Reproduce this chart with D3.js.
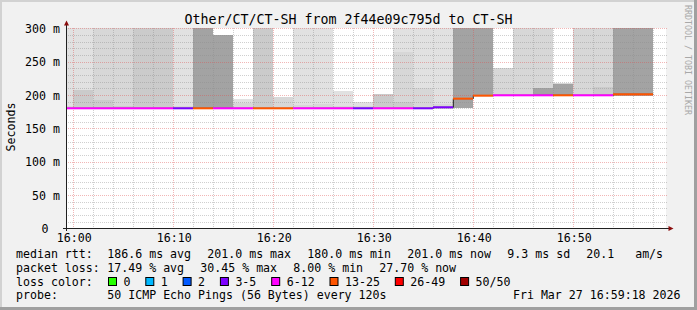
<!DOCTYPE html>
<html>
<head>
<meta charset="utf-8">
<script src="https://cdn.jsdelivr.net/npm/d3@7"></script>
<style>
  body { margin: 0; background: #f1f1f1; }
  svg { display: block; }
  text { font-family: "DejaVu Sans Mono", monospace; fill: #000; white-space: pre; }
</style>
</head>
<body>
<script>
var WIDTH = 697,
    HEIGHT = 310;

// 2 minute steps, start time of each step
var times = ["15:58", "16:00", "16:02", "16:04", "16:06", "16:08", "16:10", "16:12",
             "16:14", "16:16", "16:18", "16:20", "16:22", "16:24", "16:26", "16:28",
             "16:30", "16:32", "16:34", "16:36", "16:38", "16:40", "16:42", "16:44",
             "16:46", "16:48", "16:50", "16:52", "16:54", "16:56"];

// median rtt (ms)
var medianMs = [180, 180, 180, 180, 180, 180, 180, 180, 180, 180,
                180, 180, 180, 180, 180, 180, 180, 180, 180, 181.5,
                194.5, 199, 199.5, 199.5, 199.5, 199.5, 199.5, 199.5, 201, 201];

// packet loss (%)
var lossPct = [18, 16, 18, 20, 16, 14, 8, 30.45, 20, 18,
               28, 27, 22, 16, 18, 8, 20, 14, 8, 10,
               29, 27, 22, 20, 18, 28, 20, 22, 28, 27.7];

// smoke: lowest ping and the upper edge of each ping band (ms, null = none)
var smokeLow   = [179, 179, 179, 179, 179, 179, 179, 179, 179, 179,
                  179, 179, 179, 179, 179, 179, 179, 179, 179, 179,
                  180, 198, 198, 198, 198, 198, 198, 198, 198, 198];
var smokeOuter = [340, 340, 340, 340, 340, 340, 340, 340, 290, 194,
                  340, 196.5, 340, 340, 206, 189, 202, 340, 340, 340,
                  340, 340, 240, 340, 340, 218, 340, 340, 340, 340];
var smokeMid   = [184, null, 340, 340, 340, 340, 184, 340, 290, 188,
                  340, 196.5, 185, 186, 184, 184, 202, 265, 210, 186,
                  340, 340, 240, 340, 340, 218, 340, 340, 340, 340];
var smokeInner = [null, 208, 192, 184, 340, 340, null, 340, 290, null,
                  340, null, null, null, null, null, 202, 189, null, null,
                  340, 340, null, null, null, null, null, 212, 340, 340];
var smokeCore  = [null, null, null, null, null, null, null, 340, 290, null,
                  null, null, null, null, null, null, null, null, null, null,
                  340, 340, null, null, 211, 216, null, null, 340, 340];

var bandColors = ["#e1e1e1", "#d7d7d7", "#cbcbcb", "#a3a3a3"];

var lossLabels = ["0", "1", "2", "3-5", "6-12", "13-25", "26-49", "50/50"],
    lossColors = ["#26ff00", "#00b8ff", "#0059ff", "#7e00ff", "#ff00ff", "#ff5500", "#ff0000", "#a10000"],
    lossBreaks = [1, 2, 3, 6, 13, 26, 50];

var rttStats = [186.6, 201.0, 180.0, 201.0],
    lossStats = [17.49, 30.45, 8.00, 27.70],
    statNames = ["avg", "max", "min", "now"],
    rttSd = 9.3,
    rttAmS = 20.1;

var yTicks = [0, 50, 100, 150, 200, 250, 300];

var parse = d3.timeParse("%Y-%m-%d %H:%M"),
    t0 = new Date(2026, 2, 27, 15, 59, 18),
    t1 = new Date(2026, 2, 27, 16, 59, 18);

var data = times.map(function(t, i) {
  var start = parse("2026-03-27 " + t);
  return {
    start: start < t0 ? t0 : start,
    end: d3.timeMinute.offset(start, 2),
    median: medianMs[i],
    loss: lossPct[i],
    low: smokeLow[i],
    bands: [smokeOuter[i], smokeMid[i], smokeInner[i], smokeCore[i]]
  };
});

var x = d3.scaleTime().domain([t0, t1]).range([66.3, 666.3]),
    y = d3.scaleLinear().domain([0, 300]).range([228.3, 28.3]),
    lossColor = d3.scaleThreshold().domain(lossBreaks).range(lossColors);

var px = function(v) { return Math.round(x(v)); },
    py = function(v) { return Math.round(y(v)); };

var svg = d3.select("body").append("svg")
      .attr("width", WIDTH)
      .attr("height", HEIGHT);

// frame
svg.append("rect").attr("width", WIDTH).attr("height", HEIGHT).attr("fill", "#f1f1f1");
svg.append("path").attr("d", "M0,0H697V2H2V310H0Z").attr("fill", "#d2d2d2");
svg.append("path").attr("d", "M697,0V310H0V307H694V0Z").attr("fill", "#a0a0a0");

// canvas
svg.append("rect")
  .attr("x", 66).attr("y", 28)
  .attr("width", 600).attr("height", 200)
  .attr("fill", "#fff");

svg.append("clipPath").attr("id", "plot")
  .append("rect").attr("x", 66).attr("y", 28).attr("width", 600).attr("height", 200);

// smoke
var smoke = svg.append("g").attr("clip-path", "url(#plot)").attr("shape-rendering", "crispEdges");

bandColors.forEach(function(color, b) {
  smoke.selectAll(".band" + b)
    .data(data.filter(function(d) { return d.bands[b] != null; }))
    .enter().append("rect")
    .attr("class", "band" + b)
    .attr("x", function(d) { return px(d.start); })
    .attr("width", function(d) { return px(d.end) - px(d.start); })
    .attr("y", function(d) { return py(Math.min(d.bands[b], 310)); })
    .attr("height", function(d) { return py(d.low) - py(Math.min(d.bands[b], 310)); })
    .attr("fill", color);
});

// grid
var grid = svg.append("g").attr("fill", "none").attr("stroke-dasharray", "1,1");
var minorCol = "rgba(140,140,140,0.42)",
    majorCol = "rgba(222,80,80,0.42)";

grid.selectAll(".hminor")
  .data(y.ticks(30).filter(function(v) { return v % 50; }))
  .enter().append("line")
  .attr("x1", 66).attr("x2", 667)
  .attr("y1", function(v) { return py(v) + 0.5; })
  .attr("y2", function(v) { return py(v) + 0.5; })
  .attr("stroke", minorCol);

grid.selectAll(".vminor")
  .data(x.ticks(d3.timeMinute.every(2)).filter(function(t) { return t.getMinutes() % 10; }))
  .enter().append("line")
  .attr("x1", function(t) { return px(t) + 0.5; })
  .attr("x2", function(t) { return px(t) + 0.5; })
  .attr("y1", 28).attr("y2", 228)
  .attr("stroke", minorCol);

grid.selectAll(".hmajor")
  .data(yTicks.slice(1))
  .enter().append("line")
  .attr("x1", 66).attr("x2", 667)
  .attr("y1", function(v) { return py(v) + 0.5; })
  .attr("y2", function(v) { return py(v) + 0.5; })
  .attr("stroke", majorCol);

grid.selectAll(".vmajor")
  .data(x.ticks(d3.timeMinute.every(10)))
  .enter().append("line")
  .attr("x1", function(t) { return px(t) + 0.5; })
  .attr("x2", function(t) { return px(t) + 0.5; })
  .attr("y1", 28).attr("y2", 228)
  .attr("stroke", majorCol);

// median: dark step line under the loss coloured segments
var stepPts = data.map(function(d) { return [x(d.start), y(d.median)]; });
stepPts.push([x(data[data.length - 1].end), y(data[data.length - 1].median)]);

svg.append("path")
  .attr("d", d3.line().curve(d3.curveStepAfter)(stepPts))
  .attr("fill", "none")
  .attr("stroke", "#202020")
  .attr("stroke-width", 1);

svg.selectAll(".med")
  .data(data)
  .enter().append("line")
  .attr("class", "med")
  .attr("x1", function(d) { return px(d.start); })
  .attr("x2", function(d) { return px(d.end); })
  .attr("y1", function(d) { return y(d.median); })
  .attr("y2", function(d) { return y(d.median); })
  .attr("stroke", function(d) { return lossColor(Math.round(d.loss / 2)); })
  .attr("stroke-width", 2);

// axes
svg.append("line").attr("x1", 63).attr("x2", 669).attr("y1", 228.5).attr("y2", 228.5)
  .attr("stroke", "#202020");
svg.append("line").attr("x1", 66.5).attr("x2", 66.5).attr("y1", 231).attr("y2", 24)
  .attr("stroke", "#202020");
svg.append("path").attr("d", "M64,25.5L66.5,20.5L69,25.5Z").attr("fill", "#8b0d0d");
svg.append("path").attr("d", "M668.5,226L673.5,228.5L668.5,231Z").attr("fill", "#8b0d0d");

var xAxis = svg.append("g")
  .attr("transform", "translate(0,242)")
  .call(d3.axisBottom(x).ticks(d3.timeMinute.every(10)).tickFormat(d3.timeFormat("%H:%M")).tickSize(0));
xAxis.select(".domain").remove();
xAxis.selectAll("text").attr("y", 0).attr("dy", null).attr("dx", "0.5")
  .style("font-family", "DejaVu Sans Mono").style("font-size", "11.6px").attr("fill", "#000");

var yAxis = svg.append("g")
  .attr("transform", "translate(60,0)")
  .call(d3.axisLeft(y).tickValues(yTicks).tickSize(0)
    .tickFormat(function(v) { return v ? v + " m" : "0"; }));
yAxis.select(".domain").remove();
yAxis.selectAll("text").attr("x", function(v) { return v ? 0 : -11.5; }).attr("dy", "4.2")
  .style("font-family", "DejaVu Sans Mono").style("font-size", "11.6px").attr("fill", "#000");

// titles
svg.append("text")
  .attr("x", 348.5).attr("y", 23.5)
  .attr("text-anchor", "middle")
  .style("font-size", "13.3px")
  .text("Other/CT/CT-SH from 2f44e09c795d to CT-SH");

svg.append("text")
  .attr("transform", "translate(15,127) rotate(-90)")
  .attr("text-anchor", "middle")
  .style("font-size", "11.6px")
  .text("Seconds");

svg.append("text")
  .attr("transform", "translate(685,5) rotate(90)")
  .style("font-size", "8.3px")
  .style("fill", "#a8a8a8")
  .text("RRDTOOL / TOBI OETIKER");

// legend
var CH = 7.0, LX = 107.3;
var legend = svg.append("g").style("font-size", "11.6px");

function row(label, items, yb) {
  legend.append("text").attr("x", 16).attr("y", yb).text(label);
  var xx = LX;
  items.forEach(function(s) {
    legend.append("text").attr("x", xx).attr("y", yb).text(s);
    xx += s.length * CH + 16;
  });
}

var f1 = d3.format(".1f"), f2 = d3.format(".2f");
row("median rtt:", rttStats.map(function(v, i) { return f1(v) + " ms " + statNames[i]; })
  .concat([f1(rttSd) + " ms sd", f1(rttAmS) + "   am/s"]), 258);
row("packet loss:", lossStats.map(function(v, i) { return f2(v) + " % " + statNames[i]; }), 272);

legend.append("text").attr("x", 16).attr("y", 285.5).text("loss color:");
var lx = 108.5;
lossLabels.forEach(function(l, i) {
  legend.append("rect")
    .attr("x", lx).attr("y", 277.5).attr("width", 8).attr("height", 8)
    .attr("fill", lossColors[i]).attr("stroke", "#000");
  legend.append("text").attr("x", lx + 15).attr("y", 285.5).text(l);
  lx += 15 + l.length * CH + 15.3;
});

legend.append("text").attr("x", 16).attr("y", 299).text("probe:");
legend.append("text").attr("x", LX).attr("y", 299).text("50 ICMP Echo Pings (56 Bytes) every 120s");
legend.append("text").attr("x", 680.5).attr("y", 299).attr("text-anchor", "end")
  .text("Fri Mar 27 16:59:18 2026");
</script>
</body>
</html>
